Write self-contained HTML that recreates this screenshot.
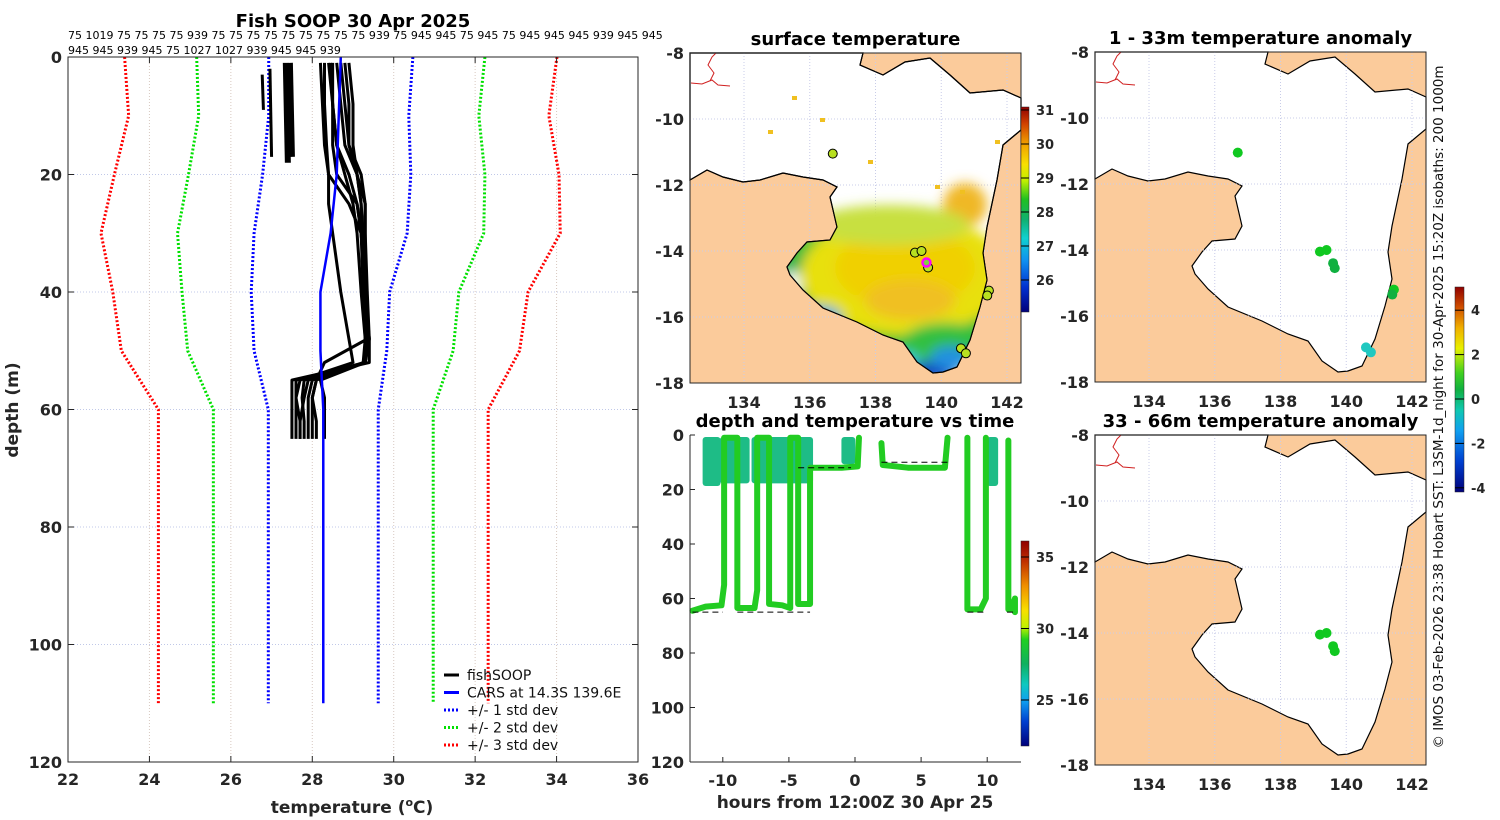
<!DOCTYPE html>
<html><head><meta charset="utf-8"><style>
html,body{margin:0;padding:0;background:#fff;}
svg{display:block;font-family:"DejaVu Sans","Liberation Sans",sans-serif;}
.tk{font-size:16px;font-weight:bold;fill:#262626;}
.tt{font-size:18px;font-weight:bold;fill:#000;}
</style></head><body>
<svg id="fig" width="1500" height="820" viewBox="0 0 1500 820" xmlns="http://www.w3.org/2000/svg">
<defs>
<filter id="blur" x="-50%" y="-50%" width="200%" height="200%"><feGaussianBlur stdDeviation="6"/></filter>
<linearGradient id="sstcb" x1="0" y1="1" x2="0" y2="0">
<stop offset="0" stop-color="#00007a"/><stop offset="0.12" stop-color="#0030d0"/><stop offset="0.25" stop-color="#1090f0"/><stop offset="0.36" stop-color="#10d0d0"/><stop offset="0.45" stop-color="#10b070"/><stop offset="0.55" stop-color="#20c020"/><stop offset="0.64" stop-color="#c0f000"/><stop offset="0.72" stop-color="#f8e000"/><stop offset="0.82" stop-color="#f0a000"/><stop offset="0.92" stop-color="#d04000"/><stop offset="1" stop-color="#900000"/>
</linearGradient>
<linearGradient id="dtcb" x1="0" y1="1" x2="0" y2="0">
<stop offset="0" stop-color="#00007a"/><stop offset="0.12" stop-color="#0040d0"/><stop offset="0.22" stop-color="#10a0f0"/><stop offset="0.3" stop-color="#10c8c0"/><stop offset="0.4" stop-color="#10b060"/><stop offset="0.52" stop-color="#20d020"/><stop offset="0.58" stop-color="#c0f000"/><stop offset="0.66" stop-color="#f8e000"/><stop offset="0.78" stop-color="#f09000"/><stop offset="0.9" stop-color="#c03000"/><stop offset="1" stop-color="#900000"/>
</linearGradient>
<linearGradient id="ancb" x1="0" y1="1" x2="0" y2="0">
<stop offset="0" stop-color="#00007a"/><stop offset="0.15" stop-color="#0040d0"/><stop offset="0.3" stop-color="#10a0f0"/><stop offset="0.4" stop-color="#10c8b0"/><stop offset="0.5" stop-color="#10b040"/><stop offset="0.58" stop-color="#40d020"/><stop offset="0.7" stop-color="#e8f000"/><stop offset="0.8" stop-color="#f0b000"/><stop offset="0.9" stop-color="#d05000"/><stop offset="1" stop-color="#900000"/>
</linearGradient>
</defs>
<g id="left"></g>
<g id="sst"></g>
<g id="dt"></g>
<g id="an1"></g>
<g id="an2"></g>
<text x="1443" y="407" transform="rotate(-90 1443 407)" text-anchor="middle" font-size="13.5" fill="#111">© IMOS 03-Feb-2026 23:38 Hobart SST: L3SM-1d_night for 30-Apr-2025 15:20Z isobaths: 200  1000m</text>
</svg>
<script>
// ---------- data: CARS climatology ----------
const carsDepth = [0,10,20,30,40,50,60,110];
const carsMean  = [28.7,28.65,28.6,28.45,28.2,28.2,28.27,28.27];
const carsStd   = [1.77,1.72,1.82,1.88,1.7,1.63,1.35,1.35];
// ---------- data: fishSOOP profiles (temp, depth) ----------
const profDepth = [1,8,15,20,25,30,40,48,52,55,58,62,65];
const profTemps = [
 [28.2,28.25,28.3,28.4,28.9,29.2,29.3,29.35,29.3,27.6,27.6,27.7,27.7],
 [28.4,28.5,28.6,28.9,29.1,29.2,29.3,29.4,29.3,27.8,27.75,27.8,27.8],
 [28.5,28.5,28.6,28.8,29.0,29.1,29.2,29.3,29.3,28.0,27.9,27.9,27.9],
 [28.6,28.7,28.8,29.1,29.2,29.25,29.3,29.35,28.3,28.1,28.0,28.0,28.0],
 [28.7,28.8,28.9,29.2,29.3,29.3,29.3,29.3,29.3,27.9,27.8,27.7,27.7],
 [28.3,28.3,28.35,28.4,28.4,28.5,28.7,28.9,29.0,27.7,27.6,27.6,27.6],
 [28.8,28.9,28.9,29.1,29.2,29.2,29.25,29.3,29.25,28.1,28.0,28.1,28.1],
 [28.45,28.5,28.5,28.6,29.1,29.2,29.3,29.4,29.4,27.5,27.5,27.5,27.5],
 [28.9,29.0,29.0,29.1,29.3,29.3,29.35,29.4,29.3,28.2,28.3,28.3,28.3]
];
const shortProfT = [[26.77,26.8],[26.96,27.0],[27.35,27.4],[27.45,27.5]];
const shortProfD = [[3,9],[2,17],[1,18],[1,17]];
// ---------- data: depth vs time track ----------
const trackT = [-12.3,-11.3,-10.1,-9.9,-9.9,-8.9,-8.9,-7.6,-7.4,-7.4,-6.5,-6.5,-5.5,-4.9,-4.9,-4.3,-4.3,-3.4,-3.4,-3.4,-1,0.2,0.3];
const trackD = [64.5,63,62.5,55,1,1,63.5,63.5,57,1,1,62,62.5,63.5,1,1,62,62,17,12,12,11.5,1];
const track2T = [2.0,2.1,4,6.8,7.0];
const track2D = [3,11,12,12,1];
const track3T = [8.5,8.5,9.5,9.9,9.9];
const track3D = [1,64,64,60,1];
const track4T = [11.6,11.6,11.8,12.1,12.1];
const track4D = [2,64,64,60,65];
const blockT0 = [-11.3,-10.0,-7.6,-0.8,10.2];
const blockT1 = [-10.4,-8.2,-3.4,-0.2,10.6];
const blockD1 = [18,17,17,10,18];
// ---------- data: station positions ----------
const stnLon = [136.7,139.2,139.4,139.6,141.45,141.4,140.6,140.75];
const stnLat = [-11.05,-14.05,-14.0,-14.5,-15.2,-15.35,-16.95,-17.1];
const an1Lon = [136.7,139.2,139.4,139.6,139.65,141.45,141.4,140.6,140.75];
const an1Lat = [-11.05,-14.05,-14.0,-14.4,-14.55,-15.2,-15.35,-16.95,-17.1];
const an1Val = [0.4,0.3,0.3,-0.2,-0.2,0.3,0.2,-1.4,-1.5];
const an2Lon = [139.2,139.4,139.6,139.65];
const an2Lat = [-14.05,-14.0,-14.4,-14.55];
const an2Val = [0.4,0.4,0.3,0.3];

const NS="http://www.w3.org/2000/svg";
function el(parent,tag,attrs,text){const e=document.createElementNS(NS,tag);for(const k in attrs)e.setAttribute(k,attrs[k]);if(text!==undefined)e.textContent=text;parent.appendChild(e);return e;}

// ================= LEFT PROFILE CHART =================
(function(){
 const g=document.getElementById('left');
 const X0=68,X1=638,Y0=57,Y1=762;
 const xs=t=>X0+(t-22)*(X1-X0)/14, ys=d=>Y0+d*(Y1-Y0)/120;
 for(let t=24;t<=34;t+=2){const l=el(g,'line',{x1:xs(t),x2:xs(t),y1:Y0,y2:Y1,stroke:'#d8c8c0','stroke-width':1,'stroke-dasharray':'1,2'});}
 for(let d=20;d<=100;d+=20){const l=el(g,'line',{x1:X0,x2:X1,y1:ys(d),y2:ys(d),stroke:'#c0c8e8','stroke-width':1,'stroke-dasharray':'1,2'});}
 const cols=['#0000ff','#00e000','#ff0000'];
 for(let k=1;k<=3;k++){for(const s of [-1,1]){
   const pts=carsDepth.map((d,i)=>xs(carsMean[i]+s*k*carsStd[i])+','+ys(d)).join(' ');
   const p=el(g,'polyline',{points:pts,fill:'none',stroke:cols[k-1],'stroke-width':3,'stroke-dasharray':'2,2'});
   }}
 profTemps.forEach(tt=>{const pts=tt.map((t,i)=>xs(t)+','+ys(profDepth[i])).join(' ');
   const p=el(g,'polyline',{points:pts,fill:'none',stroke:'#000','stroke-width':3,'stroke-linejoin':'round'});
   });
 shortProfT.forEach((tt,i)=>{const p=el(g,'line',{x1:xs(tt[0]),y1:ys(shortProfD[i][0]),x2:xs(tt[1]),y2:ys(shortProfD[i][1]),stroke:'#000','stroke-width':i>1?6:3});
   });
 const cp=el(g,'polyline',{points:carsDepth.map((d,i)=>xs(carsMean[i])+','+ys(d)).join(' '),fill:'none',stroke:'#0000ff','stroke-width':2.5});
 
 const r=el(g,'rect',{x:X0,y:Y0,width:X1-X0,height:Y1-Y0,fill:'none',stroke:'#262626','stroke-width':1});
 
 for(let t=22;t<=36;t+=2){el(g,'line',{x1:xs(t),x2:xs(t),y1:Y1,y2:Y1-6,stroke:'#262626'});el(g,'line',{x1:xs(t),x2:xs(t),y1:Y0,y2:Y0+6,stroke:'#262626'});
   const tx=el(g,'text',{x:xs(t),y:Y1+23,'text-anchor':'middle',class:'tk'},t);}
 for(let d=0;d<=120;d+=20){el(g,'line',{x1:X0,x2:X0+6,y1:ys(d),y2:ys(d),stroke:'#262626'});el(g,'line',{x1:X1,x2:X1-6,y1:ys(d),y2:ys(d),stroke:'#262626'});
   const tx=el(g,'text',{x:X0-6,y:ys(d)+6,'text-anchor':'end',class:'tk'},d);}
 const yl=el(g,'text',{x:18,y:410,transform:'rotate(-90 18 410)','text-anchor':'middle',class:'tk',style:'font-size:17px'},'depth (m)');
 const xl=el(g,'text',{x:352,y:813,'text-anchor':'middle',class:'tk',style:'font-size:17px'});xl.innerHTML='temperature (<tspan font-size="11" dy="-7">o</tspan><tspan dy="7">C)</tspan>';
 const ti=el(g,'text',{x:353,y:27,'text-anchor':'middle',class:'tt'},'Fish SOOP 30 Apr 2025');
 const h1=el(g,'text',{x:68,y:39,'font-size':11,fill:'#000'},'75 1019 75 75 75 75 939 75 75 75 75 75 75 75 75 75 939 75 945 945 75 945 75 945 945 945 939 945 945');
 const h2=el(g,'text',{x:68,y:54,'font-size':11,fill:'#000'},'945 945 939 945 75 1027 1027 939 945 945 939');
 const lg=el(g,'g',{});
 const items=[['fishSOOP','#000',''],['CARS at 14.3S 139.6E','#0000ff',''],['+/- 1 std dev','#0000ff','2,2'],['+/- 2 std dev','#00e000','2,2'],['+/- 3 std dev','#ff0000','2,2']];
 items.forEach((it,i)=>{const y=675+i*17.5;
   el(lg,'line',{x1:444,x2:459,y1:y,y2:y,stroke:it[1],'stroke-width':3,'stroke-dasharray':it[2]});
   const t=el(lg,'text',{x:467,y:y+5,'font-size':14,fill:'#111'},it[0]);});
})();

// ================= MAPS =================
const water=[[690,53],[863,53],[860,65],[883,75],[905,62],[930,58],[950,75],[970,93],[1003,90],[1021,98],[1021,130],[1003,145],[997,180],[987,227],[983,253],[987,280],[980,307],[970,340],[957,367],[943,372],[933,373],[917,362],[903,342],[883,335],[857,322],[823,308],[803,290],[790,275],[787,267],[797,253],[807,242],[830,240],[837,227],[830,197],[837,187],[823,180],[803,177],[783,173],[760,180],[743,182],[723,177],[707,170],[690,180]];
function drawMap(g,L,T,id,title,sst){
 const W=331,H=330;
 const lx=lon=>L+54+(lon-134)*(W-54-14)/8, ly=lat=>T+(-8-lat)*H/10;
 const land=el(g,'rect',{x:L,y:T,width:W,height:H,fill:'#fbcb9b'});
 const pts=water.map(p=>(p[0]-690+L)+','+(p[1]-53+T)).join(' ');
 el(g,'clipPath',{id:'cw'+id}).appendChild(document.createElementNS(NS,'polygon')).setAttribute('points',pts);
 const wp=el(g,'polygon',{points:pts,fill:'#fff',stroke:'#000','stroke-width':1.2});
 for(let lon=134;lon<=142;lon+=2)el(g,'line',{x1:lx(lon),x2:lx(lon),y1:T,y2:T+H,stroke:'#c8cce8','stroke-dasharray':'1,2'});
 for(let lat=-10;lat>=-16;lat-=2)el(g,'line',{x1:L,x2:L+W,y1:ly(lat),y2:ly(lat),stroke:'#c8cce8','stroke-dasharray':'1,2'});
 if(sst){
  const sg=el(g,'g',{'clip-path':'url(#cw'+id+')'});
  const bl=el(sg,'g',{filter:'url(#blur)'});
  [[860,300,150,70,'#30c030'],[815,280,35,30,'#20b050'],[905,275,105,60,'#e8e010'],[905,268,70,40,'#f0d000'],[910,300,45,20,'#f0c020'],[965,205,22,22,'#f0b828'],[890,225,80,20,'#c8e040'],[945,345,45,22,'#30c040'],[820,318,22,12,'#20a8e8'],[925,372,30,10,'#1040c0'],[950,358,20,12,'#2090e0'],[792,285,8,14,'#ffffff'],[890,360,30,10,'#40c8e0']].forEach(e=>el(bl,'ellipse',{cx:e[0]-690+L,cy:e[1]-53+T,rx:e[2],ry:e[3],fill:e[4]}));
  [[768,130],[820,118],[792,96],[868,160],[935,185],[960,190],[995,140]].forEach(p=>el(sg,'rect',{x:p[0]-690+L,y:p[1]-53+T,width:5,height:4,fill:'#f0c020'}));
  el(g,'polygon',{points:pts,fill:'none',stroke:'#000','stroke-width':1.2});
 }
 el(g,'polyline',{points:[[L+1,T+30],[L+12,T+31],[L+22,T+27],[L+28,T+32],[L+40,T+33]].map(p=>p.join(',')).join(' '),fill:'none',stroke:'#d02020','stroke-width':1});
 el(g,'polyline',{points:[[L+20,T+28],[L+24,T+20],[L+18,T+12],[L+22,T+4],[L+26,T]].map(p=>p.join(',')).join(' '),fill:'none',stroke:'#d02020','stroke-width':1});
 const fr=el(g,'rect',{x:L,y:T,width:W,height:H,fill:'none',stroke:'#262626'});
 for(let lon=134;lon<=142;lon+=2){const t=el(g,'text',{x:lx(lon),y:T+H+25,'text-anchor':'middle',class:'tk'},lon);}
 for(let lat=-8;lat>=-18;lat-=2){const t=el(g,'text',{x:L-6,y:ly(lat)+6,'text-anchor':'end',class:'tk'},lat);}
 const ti=el(g,'text',{x:L+W/2,y:T-8,'text-anchor':'middle',class:'tt'},title);
 return {lx,ly};
}
function anomColor(v){const s=[[-4,'#00007a'],[-2,'#10a0f0'],[-1.5,'#20c8c0'],[-0.5,'#10b040'],[0.3,'#10c820'],[2,'#e8f000'],[4,'#e07000']];for(let i=s.length-1;i>=0;i--)if(v>=s[i][0])return s[i][1];return s[0][1];}
(function(){
 const g=document.getElementById('sst');
 const m=drawMap(g,690,53,'a','surface temperature',true);
 stnLon.forEach((lon,i)=>{const c=el(g,'circle',{cx:m.lx(lon),cy:m.ly(stnLat[i]),r:4.5,fill:'#b8e020',stroke:'#000','stroke-width':1});});
 const mc=el(g,'circle',{cx:m.lx(139.55),cy:m.ly(-14.35),r:4,fill:'#80d040',stroke:'#ff00ff','stroke-width':2.5});
 const cb=el(g,'rect',{x:1021,y:107,width:8,height:205,fill:'url(#sstcb)',stroke:'#262626','stroke-width':0.5});
 [31,30,29,28,27,26].forEach(v=>{const y=110+(31-v)*34;el(g,'line',{x1:1021,x2:1029,y1:y,y2:y,stroke:'#000'});const t=el(g,'text',{x:1036,y:y+5,'font-size':13,'font-weight':'bold',fill:'#262626'},v);});
 const g1=document.getElementById('an1');
 const m1=drawMap(g1,1095,52,'b','1 - 33m temperature anomaly',false);
 an1Lon.forEach((lon,i)=>{const c=el(g1,'circle',{cx:m1.lx(lon),cy:m1.ly(an1Lat[i]),r:5,fill:anomColor(an1Val[i])});});
 const g2=document.getElementById('an2');
 const m2=drawMap(g2,1095,435,'c','33 - 66m temperature anomaly',false);
 an2Lon.forEach((lon,i)=>{const c=el(g2,'circle',{cx:m2.lx(lon),cy:m2.ly(an2Lat[i]),r:5,fill:anomColor(an2Val[i])});});
 const acb=el(g2,'rect',{x:1455,y:287,width:9,height:205,fill:'url(#ancb)',stroke:'#262626','stroke-width':0.5});
 [4,2,0,-2,-4].forEach(v=>{const y=399-v*22.2;el(g2,'line',{x1:1455,x2:1464,y1:y,y2:y,stroke:'#000'});const t=el(g2,'text',{x:1471,y:y+5,'font-size':13,'font-weight':'bold',fill:'#262626'},v);});
})();

// ================= DEPTH vs TIME =================
(function(){
 const g=document.getElementById('dt');
 const L=690,R=1021,T=435,B=762;
 const xs=t=>855+t*13.22, ys=d=>T+d*(B-T)/120;
 blockT0.forEach((t0,i)=>{const b=el(g,'rect',{x:xs(t0)-3,y:ys(0)+2,width:xs(blockT1[i])-xs(t0)+6,height:ys(blockD1[i])-ys(0),rx:3,fill:'#1ebc86'});});
 [[trackT,trackD],[track2T,track2D],[track3T,track3D],[track4T,track4D]].forEach(tr=>{
   const p=el(g,'polyline',{points:tr[0].map((t,i)=>xs(t)+','+ys(tr[1][i])).join(' '),fill:'none',stroke:'#22cc22','stroke-width':6,'stroke-linejoin':'round','stroke-linecap':'round'});
   });
 [[-12.3,-10,65],[-4.3,-0.3,12],[2,7,10],[8.5,9.9,65],[11.5,12.1,65],[-8.9,-3.4,65]].forEach(s=>el(g,'line',{x1:xs(s[0]),x2:xs(s[1]),y1:ys(s[2]),y2:ys(s[2]),stroke:'#000','stroke-width':1,'stroke-dasharray':'6,4'}));
 el(g,'line',{x1:L,x2:L,y1:T,y2:B,stroke:'#262626'});el(g,'line',{x1:L,x2:R,y1:B,y2:B,stroke:'#262626'});
 for(let t=-10;t<=10;t+=5){el(g,'line',{x1:xs(t),x2:xs(t),y1:B,y2:B-5,stroke:'#262626'});const tx=el(g,'text',{x:xs(t),y:B+24,'text-anchor':'middle',class:'tk'},t);}
 for(let d=0;d<=120;d+=20){el(g,'line',{x1:L,x2:L+5,y1:ys(d),y2:ys(d),stroke:'#262626'});const tx=el(g,'text',{x:L-6,y:ys(d)+6,'text-anchor':'end',class:'tk'},d);}
 const xl=el(g,'text',{x:855,y:808,'text-anchor':'middle',class:'tk',style:'font-size:17px'},'hours from 12:00Z 30 Apr 25');
 const ti=el(g,'text',{x:855,y:427,'text-anchor':'middle',class:'tt'},'depth and temperature vs time');
 const cb=el(g,'rect',{x:1021,y:541,width:8,height:205,fill:'url(#dtcb)',stroke:'#262626','stroke-width':0.5});
 [35,30,25].forEach(v=>{const y=557+(35-v)*14.3;el(g,'line',{x1:1021,x2:1029,y1:y,y2:y,stroke:'#000'});const t=el(g,'text',{x:1036,y:y+5,'font-size':13,'font-weight':'bold',fill:'#262626'},v);});
})();
</script>
</body></html>
